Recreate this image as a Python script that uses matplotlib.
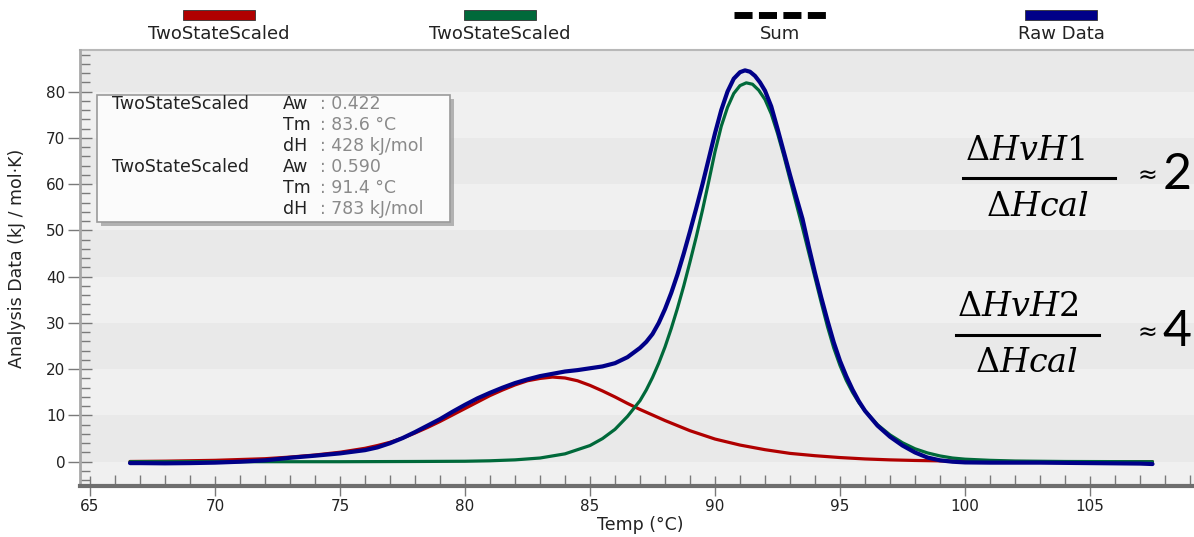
import matplotlib
matplotlib.use("Agg")
import matplotlib.pyplot as plt
from matplotlib.patches import Rectangle
from matplotlib.lines import Line2D
from matplotlib.ticker import MultipleLocator

# ---------------- data ----------------
red_T = [66.6, 68, 70, 72, 73, 74, 75, 76, 76.5, 77, 77.5, 78, 78.5, 79, 79.5, 80, 80.5, 81, 81.5,
         82, 82.5, 83, 83.5, 84, 84.5, 85, 85.5, 86, 86.5, 87, 87.5, 88, 88.5, 89, 89.5, 90, 91,
         92, 93, 94, 95, 96, 97, 98, 99, 100, 101, 103, 105, 107.5]
red_v = [0.05, 0.12, 0.3, 0.65, 1.0, 1.45, 2.05, 2.9, 3.5, 4.2, 5.1, 6.2, 7.4, 8.7, 10.1, 11.5,
         12.9, 14.3, 15.5, 16.6, 17.5, 18.0, 18.3, 18.1, 17.5, 16.5, 15.3, 14.0, 12.6, 11.3, 10.1,
         8.9, 7.8, 6.7, 5.8, 4.9, 3.6, 2.6, 1.8, 1.3, 0.9, 0.6, 0.4, 0.27, 0.18, 0.1, 0.05, 0.02,
         0.0, 0.0]

green_T = [66.6, 70, 75, 78, 80, 81, 82, 83, 84, 85, 85.5, 86, 86.5, 87, 87.25, 87.5, 87.75, 88,
           88.25, 88.5, 88.75, 89, 89.25, 89.5, 89.75, 90, 90.25, 90.5, 90.75, 91, 91.25, 91.5,
           91.75, 92, 92.25, 92.5, 92.75, 93, 93.25, 93.5, 93.75, 94, 94.25, 94.5, 94.75, 95,
           95.25, 95.5, 95.75, 96, 96.5, 97, 97.5, 98, 98.5, 99, 99.5, 100, 101, 102, 104, 107.5]
green_v = [0.0, 0.0, 0.0, 0.05, 0.1, 0.2, 0.4, 0.8, 1.7, 3.5, 5.0, 7.0, 9.8, 13.2, 15.5, 18.2,
           21.3, 24.8, 28.8, 33.2, 38.0, 43.2, 48.6, 54.4, 60.6, 67.0, 72.5, 76.6, 79.6, 81.3,
           81.9, 81.6, 80.3, 78.3, 75.2, 71.0, 66.2, 61.0, 55.8, 50.6, 45.2, 39.8, 34.4, 29.2,
           24.6, 20.8, 17.6, 15.0, 12.8, 11.0, 8.0, 5.8, 4.1, 2.8, 1.9, 1.25, 0.8, 0.55, 0.3,
           0.15, 0.05, 0.0]

raw_T = [66.6, 67, 68, 69, 70, 71, 72, 73, 74, 75, 76, 76.5, 77, 77.5, 78, 78.5, 79, 79.5, 80,
         80.5, 81, 81.5, 82, 82.5, 83, 83.5, 84, 84.5, 85, 85.5, 86, 86.5, 87, 87.25, 87.5,
         87.75, 88, 88.25, 88.5, 88.75, 89, 89.25, 89.5, 89.75, 90, 90.25, 90.5, 90.75, 91,
         91.2, 91.4, 91.6, 91.8, 92, 92.25, 92.5, 92.75, 93, 93.25, 93.5, 93.75, 94, 94.25,
         94.5, 94.75, 95, 95.25, 95.5, 95.75, 96, 96.5, 97, 97.5, 98, 98.5, 99, 99.5, 100, 101,
         102, 103, 104, 105, 106, 107, 107.5]
raw_v = [-0.3, -0.3, -0.35, -0.3, -0.2, 0.0, 0.3, 0.85, 1.3, 1.8, 2.5, 3.1, 4.0, 5.1, 6.4, 7.8,
         9.2, 10.8, 12.3, 13.7, 14.9, 16.0, 17.0, 17.8, 18.5, 19.0, 19.5, 19.8, 20.2, 20.6, 21.3,
         22.6, 24.6, 25.9, 27.6, 30.0, 33.0, 36.5, 40.5, 45.0, 49.8, 54.8, 60.0, 65.5, 71.0,
         76.0, 80.0, 82.8, 84.2, 84.6, 84.3, 83.4, 82.0, 80.2, 76.8, 72.0, 67.0, 62.0, 57.2,
         52.5, 46.5, 40.8, 35.5, 30.5, 25.8, 21.8, 18.5, 15.6, 13.1, 11.0, 7.8, 5.4, 3.5, 2.0,
         0.9, 0.3, 0.0, -0.15, -0.2, -0.2, -0.2, -0.25, -0.3, -0.35, -0.4, -0.5]

legend_labels = ["TwoStateScaled", "TwoStateScaled", "Sum", "Raw Data"]
fit_names = ["TwoStateScaled", "TwoStateScaled"]
fit_aw = ["0.422", "0.590"]
fit_tm = ["83.6 \u00b0C", "91.4 \u00b0C"]
fit_dh = ["428 kJ/mol", "783 kJ/mol"]
x_ticks = [65, 70, 75, 80, 85, 90, 95, 100, 105]
y_ticks = [0, 10, 20, 30, 40, 50, 60, 70, 80]
ratio_nums = [r"$\Delta HvH1$", r"$\Delta HvH2$"]
ratio_den = r"$\Delta Hcal$"
ratio_vals = ["2", "4"]

# ---------------- styling ----------------
plt.rcParams["font.family"] = ["DejaVu Sans"]
plt.rcParams["lines.scale_dashes"] = False

RED = "#b00000"
GREEN = "#00693a"
BLUE = "#000088"
TXT = "#222222"

W, H = 1194, 537
fig = plt.figure(figsize=(W / 100, H / 100), dpi=100)
fig.patch.set_facecolor("white")


def fx(x):
    return x / W


def fy(y):
    return 1 - y / H


ax_l, ax_r, ax_t, ax_b = 80, 1194, 50, 486
ax = fig.add_axes([fx(ax_l), fy(ax_b), (ax_r - ax_l) / W, (ax_b - ax_t) / H])
ax.set_xlim(64.6, 109.16)
ax.set_ylim(-5.25, 89.0)

# banded background
ax.set_facecolor("#f0f0f0")
for lo in range(0, 90, 20):
    ax.axhspan(lo, lo + 10, color="#e9e9e9", lw=0, zorder=0)

line_kw = dict(solid_capstyle="round", solid_joinstyle="round", antialiased=True)
ax.plot(red_T, red_v, color=RED, lw=2.3, zorder=3, **line_kw)
ax.plot(green_T, green_v, color=GREEN, lw=2.3, zorder=3, **line_kw)
ax.plot(raw_T, raw_v, color=BLUE, lw=3.0, zorder=4, **line_kw)

# spines & ticks
for s in ["top", "right"]:
    ax.spines[s].set_visible(False)
ax.spines["left"].set_color("#a8a8a8")
ax.spines["left"].set_linewidth(2.0)
ax.spines["bottom"].set_color("#6e6e6e")
ax.spines["bottom"].set_linewidth(3.0)
ax.add_line(Line2D([0, 1], [1, 1], transform=ax.transAxes, color="#b8b8b8", lw=1.5, clip_on=False))

ax.set_xticks(x_ticks)
ax.set_yticks(y_ticks)
ax.xaxis.set_minor_locator(MultipleLocator(1))
ax.yaxis.set_minor_locator(MultipleLocator(2))
ax.tick_params(axis="x", which="major", direction="inout", length=15, width=1, color="#7a7a7a",
               labelsize=11, labelcolor=TXT, pad=2)
ax.tick_params(axis="x", which="minor", direction="in", length=8, width=1, color="#7a7a7a")
ax.tick_params(axis="y", which="major", direction="inout", length=17, width=1, color="#7a7a7a",
               labelsize=11, labelcolor=TXT, pad=2)
ax.tick_params(axis="y", which="minor", direction="in", length=7, width=1, color="#7a7a7a")

fig.text(fx(640), fy(525), "Temp (\u00b0C)", ha="center", va="center", fontsize=12.5, color=TXT)
fig.text(fx(17), fy(258), "Analysis Data (kJ / mol\u00b7K)", ha="center", va="center",
         rotation=90, fontsize=12.5, color=TXT)

# ---------------- top legend ----------------
leg_centers = [219, 500, 780, 1061]
colors = [RED, GREEN, None, BLUE]
for cx, lab, col in zip(leg_centers, legend_labels, colors):
    if col is None:
        fig.add_artist(Line2D([fx(cx - 46), fx(cx + 46)], [fy(15), fy(15)], color="black", lw=5,
                              dashes=(13.0, 4.6), dash_capstyle="butt"))
    else:
        fig.add_artist(Rectangle((fx(cx - 36), fy(20)), 72 / W, 10 / H, facecolor=col,
                                 edgecolor="#333333", lw=0.6))
    fig.text(fx(cx), fy(34), lab, ha="center", va="center", fontsize=13, color=TXT)

# ---------------- info box ----------------
bx0, by0, bx1, by1 = 97, 95, 450, 222
fig.add_artist(Rectangle((fx(bx0 + 4), fy(by1 + 4)), (bx1 - bx0) / W, (by1 - by0) / H,
                         facecolor="#8a8a8a", edgecolor="none", alpha=0.6, zorder=5))
fig.add_artist(Rectangle((fx(bx0), fy(by1)), (bx1 - bx0) / W, (by1 - by0) / H,
                         facecolor="#fbfbfb", edgecolor="#9a9a9a", lw=1.2, zorder=6))
row_y = [104, 125, 146, 167, 188, 209]
for i in range(2):
    r0 = i * 3
    fig.text(fx(112), fy(row_y[r0]), fit_names[i], ha="left", va="center", fontsize=12.5,
             color=TXT, zorder=7)
    for k, (key, val) in enumerate([("Aw", fit_aw[i]), ("Tm", fit_tm[i]), ("dH", fit_dh[i])]):
        fig.text(fx(283), fy(row_y[r0 + k]), key, ha="left", va="center", fontsize=12.5,
                 color=TXT, zorder=7)
        fig.text(fx(320), fy(row_y[r0 + k]), ": " + val, ha="left", va="center", fontsize=12.5,
                 color="#8a8a8a", zorder=7)

# ---------------- ratio annotations ----------------
specs = [(150, 178, 207, 963, 1115, 1025, 1038), (307, 335, 363, 956, 1099, 1018, 1027)]
for (ny, by, dy, xl, xr, xn, xd), num, val in zip(specs, ratio_nums, ratio_vals):
    fig.text(fx(xn), fy(ny), num, ha="center", va="center", fontsize=24,
             math_fontfamily="dejavuserif", color="black")
    fig.text(fx(xd), fy(dy), ratio_den, ha="center", va="center", fontsize=24,
             math_fontfamily="dejavuserif", color="black")
    fig.add_artist(Line2D([fx(xl), fx(xr)], [fy(by), fy(by)], color="black", lw=2.2))
    fig.text(fx(1147), fy(by - 2), "\u2248", ha="center", va="center", fontsize=17, color="black")
    fig.text(fx(1177), fy(by - 3), val, ha="center", va="center", fontsize=36,
             family="Lato", color="black")

fig.savefig("out.png", dpi=100)
